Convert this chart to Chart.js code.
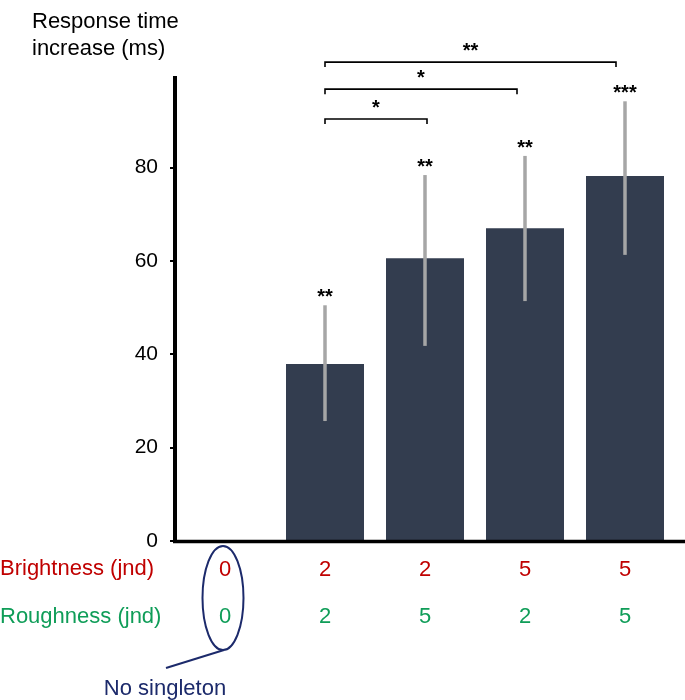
<!DOCTYPE html>
<html>
<head>
<meta charset="utf-8">
<script src="https://cdn.jsdelivr.net/npm/chart.js@4"></script>
<style>
  html, body { margin: 0; padding: 0; background: #fff; }
  #wrap { width: 685px; height: 700px; }
</style>
</head>
<body>
<div id="wrap"><canvas id="chart" width="685" height="700"></canvas></div>
<script>
// jnd levels per condition
const brightness = ['0', '2', '2', '5', '5'];
const roughness = ['0', '2', '5', '2', '5'];

// response time increase (ms), no bar for the no-singleton condition
const meanIncrease = [null, 37.9, 60.6, 67.0, 78.2];
const errLow = [null, 25.7, 41.8, 51.4, 61.3];
const errHigh = [null, 50.5, 78.4, 82.5, 94.2];
const barStars = ['', '**', '**', '**', '***'];

// pairwise comparison brackets
const bracketFrom = [1, 1, 1];
const bracketTo = [2.02, 2.92, 3.91];
const bracketLevel = [90.4, 96.8, 102.6];
const bracketStars = ['*', '*', '**'];

const yTicks = [0, 20, 40, 60, 80];

const FONT = "'Liberation Sans', Arial, Helvetica, sans-serif";
const RED = '#c00000';
const GREEN = '#0f9d58';
const NAVY = '#1c2a6b';

const annotations = {
  id: 'annotations',
  afterDraw(chart) {
    const ctx = chart.ctx;
    const x = chart.scales.x;
    const y = chart.scales.y;
    const area = chart.chartArea;

    ctx.save();

    // error bars
    ctx.strokeStyle = '#a6a6a6';
    ctx.lineWidth = 3.5;
    ctx.lineCap = 'butt';
    meanIncrease.forEach((v, i) => {
      if (v === null) return;
      const px = x.getPixelForValue(i);
      ctx.beginPath();
      ctx.moveTo(px, y.getPixelForValue(errLow[i]));
      ctx.lineTo(px, y.getPixelForValue(errHigh[i]));
      ctx.stroke();
    });

    // x baseline, running to the right edge
    ctx.strokeStyle = '#000';
    ctx.lineWidth = 3.5;
    ctx.beginPath();
    ctx.moveTo(area.left - 2, y.getPixelForValue(0) + 0.5);
    ctx.lineTo(chart.width, y.getPixelForValue(0) + 0.5);
    ctx.stroke();

    // stars above bars
    ctx.fillStyle = '#000';
    ctx.font = 'bold 20px ' + FONT;
    ctx.textAlign = 'center';
    ctx.textBaseline = 'alphabetic';
    barStars.forEach((s, i) => {
      if (!s) return;
      ctx.fillText(s, x.getPixelForValue(i), y.getPixelForValue(errHigh[i]) - 2);
    });

    // brackets
    ctx.lineWidth = 1.6;
    bracketLevel.forEach((lvl, k) => {
      const x1 = x.getPixelForValue(bracketFrom[k]);
      const x2 = x.getPixelForValue(bracketTo[k]);
      const py = y.getPixelForValue(lvl);
      ctx.beginPath();
      ctx.moveTo(x1, py + 5);
      ctx.lineTo(x1, py);
      ctx.lineTo(x2, py);
      ctx.lineTo(x2, py + 5);
      ctx.stroke();
      ctx.fillText(bracketStars[k], (x1 + x2) / 2, py - 5);
    });

    // y axis title
    ctx.font = '22px ' + FONT;
    ctx.textAlign = 'left';
    ctx.fillText('Response time', 32, 28);
    ctx.fillText('increase (ms)', 32, 55);

    // condition rows under the axis
    ctx.textAlign = 'left';
    ctx.fillStyle = RED;
    ctx.fillText('Brightness (jnd)', 0, 575);
    ctx.fillStyle = GREEN;
    ctx.fillText('Roughness (jnd)', 0, 623);
    ctx.textAlign = 'center';
    brightness.forEach((b, i) => {
      const px = x.getPixelForValue(i);
      ctx.fillStyle = RED;
      ctx.fillText(b, px, 576);
      ctx.fillStyle = GREEN;
      ctx.fillText(roughness[i], px, 623);
    });

    // no-singleton callout
    const cx = x.getPixelForValue(0) - 2;
    ctx.strokeStyle = NAVY;
    ctx.lineWidth = 2;
    ctx.beginPath();
    ctx.ellipse(cx, 598, 20.5, 52, 0, 0, Math.PI * 2);
    ctx.stroke();
    ctx.beginPath();
    ctx.moveTo(cx + 1, 650);
    ctx.lineTo(cx - 57, 668);
    ctx.stroke();
    ctx.fillStyle = NAVY;
    ctx.fillText('No singleton', cx - 58, 695);

    ctx.restore();
  }
};

new Chart(document.getElementById('chart'), {
  type: 'bar',
  data: {
    labels: brightness.map((b, i) => b + '/' + roughness[i]),
    datasets: [{
      data: meanIncrease,
      backgroundColor: '#333d4f',
      borderWidth: 0,
      barPercentage: 0.78,
      categoryPercentage: 1.0
    }]
  },
  options: {
    responsive: false,
    animation: false,
    devicePixelRatio: 1,
    layout: {
      padding: { left: 0, top: 77.5, right: 10, bottom: 0 }
    },
    plugins: {
      legend: { display: false },
      tooltip: { enabled: false }
    },
    scales: {
      x: {
        ticks: { display: false },
        grid: { display: false },
        border: { display: false },
        afterFit(scale) {
          scale.height = 159;
        }
      },
      y: {
        min: 0,
        max: 99.3,
        afterBuildTicks(scale) {
          scale.ticks = yTicks.map(v => ({ value: v }));
        },
        afterFit(scale) {
          scale.width = 175;
        },
        ticks: {
          color: '#000',
          padding: 12,
          font: { family: FONT, size: 21 }
        },
        grid: {
          drawOnChartArea: false,
          drawTicks: true,
          tickLength: 5,
          color: '#000',
          lineWidth: 2
        },
        border: {
          display: true,
          color: '#000',
          width: 4
        }
      }
    }
  },
  plugins: [annotations]
});
</script>
</body>
</html>
